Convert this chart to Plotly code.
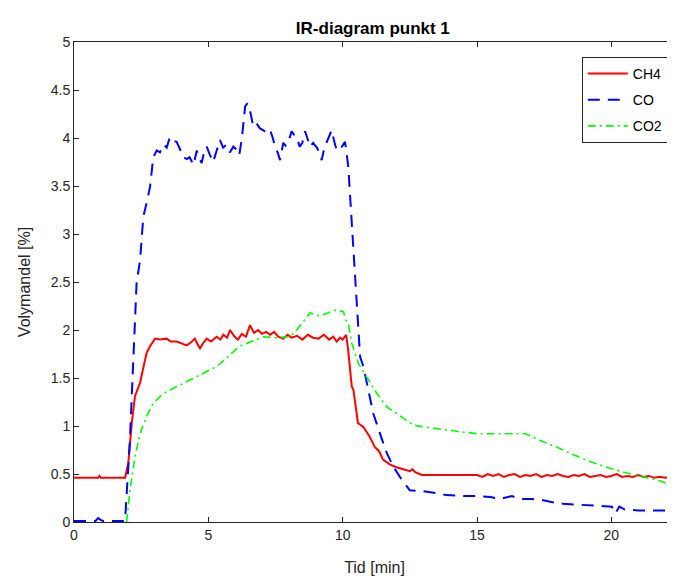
import plotly.graph_objects as go

# CH4 (red, solid)
ch4_t = [0, 0.9, 0.95, 1.0, 1.9, 2.02, 2.15, 2.27, 2.46, 2.58, 2.7, 2.83, 3.02, 3.2, 3.45,
         3.6, 3.82, 4.0, 4.19, 4.35, 4.5, 4.6, 4.69, 4.8, 4.94, 5.1, 5.31, 5.45, 5.56, 5.7,
         5.81, 5.95, 6.1, 6.25, 6.4, 6.55, 6.7, 6.85, 7.0, 7.15, 7.3, 7.45, 7.6, 7.79, 7.95,
         8.1, 8.3, 8.5, 8.7, 8.9, 9.1, 9.3, 9.5, 9.65, 9.78, 9.9, 10.0, 10.13, 10.2, 10.34,
         10.4, 10.57, 10.77, 11.0, 11.2, 11.35, 11.5, 11.75, 12.0, 12.25, 12.5, 12.6, 12.7,
         12.95, 13.5, 14.0, 14.5, 15.0, 15.2, 15.4, 15.6, 15.8, 16.0, 16.2, 16.4, 16.6, 16.8,
         17.0, 17.2, 17.4, 17.6, 17.8, 18.0, 18.2, 18.4, 18.6, 18.8, 19.0, 19.2, 19.4, 19.6,
         19.8, 20.0, 20.2, 20.4, 20.6, 20.8, 21.0, 21.2, 21.4, 21.6, 21.8, 22.0, 22.2, 22.37]
ch4_v = [0.46, 0.46, 0.48, 0.46, 0.46, 0.61, 1.03, 1.31, 1.45, 1.62, 1.76, 1.83, 1.91, 1.9, 1.91,
         1.88, 1.88, 1.86, 1.84, 1.87, 1.91, 1.85, 1.81, 1.86, 1.91, 1.88, 1.93, 1.9, 1.95, 1.92,
         2.0, 1.94, 1.9, 1.96, 1.93, 2.05, 1.97, 2.0, 1.96, 1.98, 1.95, 1.98, 1.93, 1.91, 1.95,
         1.92, 1.94, 1.9, 1.95, 1.92, 1.91, 1.95, 1.9, 1.93, 1.88, 1.92, 1.9, 1.95, 1.8, 1.41,
         1.38, 1.03, 0.99, 0.89, 0.78, 0.74, 0.65, 0.6, 0.57, 0.55, 0.53, 0.55, 0.52,
         0.49, 0.49, 0.49, 0.49, 0.49, 0.47, 0.5, 0.48, 0.5, 0.47, 0.49, 0.5, 0.47, 0.49,
         0.48, 0.5, 0.47, 0.49, 0.48, 0.5, 0.48, 0.47, 0.49, 0.48, 0.5, 0.47, 0.48, 0.49,
         0.47, 0.48, 0.5, 0.47, 0.48, 0.47, 0.49, 0.47, 0.48, 0.46, 0.47, 0.46, 0.47, 0.46]

# CO (blue, dashed)
co_t = [0, 0.8, 0.9, 1.0, 1.1, 1.9, 2.08, 2.2, 2.33, 2.46, 2.58, 2.7, 2.83, 2.95, 3.08, 3.2,
        3.33, 3.45, 3.57, 3.7, 3.82, 3.95, 4.07, 4.2, 4.3, 4.45, 4.57, 4.65, 4.75, 4.85, 4.94,
        5.05, 5.18, 5.3, 5.43, 5.55, 5.68, 5.8, 5.93, 6.05, 6.15, 6.25, 6.37, 6.45, 6.55, 6.67,
        6.8, 6.92, 7.05, 7.18, 7.3, 7.4, 7.48, 7.58, 7.67, 7.79, 7.88, 7.97, 8.1, 8.2, 8.29,
        8.4, 8.5, 8.6, 8.7, 8.79, 8.9, 9.04, 9.13, 9.22, 9.32, 9.41, 9.5, 9.59, 9.7, 9.78,
        9.88, 9.97, 10.09, 10.15, 10.21, 10.34, 10.46, 10.58, 10.65, 10.77, 10.95, 11.14,
        11.39, 11.64, 11.88, 12.2, 12.5, 13.0, 13.5, 13.87, 14.5, 15.0, 15.5, 15.86, 16.3,
        16.6, 17.0, 17.4, 17.72, 18.2, 18.8, 19.4, 20.02, 20.15, 20.3, 20.5, 21.0, 21.5, 22.0]
co_v = [0.01, 0.01, 0.04, 0.02, 0.01, 0.01, 0.85, 1.72, 2.49, 2.73, 3.18, 3.32, 3.49, 3.8, 3.87, 3.85,
        3.93, 3.9, 4.01, 3.97, 3.96, 3.88, 3.8, 3.78, 3.8, 3.72, 3.87, 3.8, 3.74, 3.86, 3.91,
        3.83, 3.75, 3.86, 3.98, 3.9, 3.93, 3.85, 3.91, 3.88, 3.82, 4.0, 4.33, 4.36, 4.29, 4.12,
        4.15, 4.1, 4.08, 4.05, 4.08, 4.0, 3.91, 3.85, 3.77, 3.95, 3.92, 3.95, 4.07, 4.03, 4.01,
        3.91, 3.95, 4.07, 3.98, 3.91, 3.95, 3.9, 3.85, 3.77, 3.9, 3.96, 4.0, 4.08, 3.95, 3.87,
        3.9, 3.91, 3.96, 3.84, 3.7, 3.11, 2.59, 2.07, 1.72, 1.62, 1.38, 1.13,
        0.92, 0.72, 0.58, 0.44, 0.33, 0.32, 0.3, 0.28, 0.27, 0.27, 0.26, 0.24, 0.27,
        0.24, 0.24, 0.23, 0.21, 0.19, 0.18, 0.17, 0.16, 0.09, 0.16, 0.13, 0.12, 0.12, 0.12]

# CO2 (green, dash-dot)
co2_t = [1.96, 2.08, 2.27, 2.46, 2.7, 2.95, 3.33, 3.82, 4.32, 4.81, 5.31, 5.81, 5.99, 6.18, 6.6,
         7.05, 7.5, 8.04, 8.29, 8.48, 8.79, 9.05, 9.28, 9.55, 9.78, 10.03, 10.12, 10.21, 10.34,
         10.59, 10.9, 11.27, 11.64, 12.14, 12.63, 13.25, 13.87, 14.3, 15.0, 16.0, 16.8, 17.35,
         17.97, 18.59, 19.2, 19.83, 20.57, 21.32, 21.8, 22.19, 22.37]
co2_v = [0.0, 0.33, 0.68, 0.92, 1.1, 1.24, 1.34, 1.41, 1.48, 1.55, 1.62, 1.74, 1.79, 1.83, 1.88,
         1.93, 1.92, 1.93, 2.0, 2.07, 2.18, 2.15, 2.16, 2.19, 2.21, 2.19, 2.1, 2.07, 1.86,
         1.65, 1.51, 1.34, 1.2, 1.1, 1.01, 0.98, 0.96, 0.94, 0.92, 0.92, 0.92, 0.85,
         0.78, 0.7, 0.63, 0.57, 0.51, 0.46, 0.43, 0.39, 0.37]

assert len(ch4_t) == len(ch4_v), (len(ch4_t), len(ch4_v))
assert len(co_t) == len(co_v), (len(co_t), len(co_v))
assert len(co2_t) == len(co2_v), (len(co2_t), len(co2_v))

axcol = "#262626"
font = "Liberation Sans, Arial, sans-serif"

fig = go.Figure()
fig.add_trace(go.Scatter(x=ch4_t, y=ch4_v, mode="lines", name="CH4", legendgroup="a",
                         line=dict(color="#ff0000", width=2)))
fig.add_trace(go.Scatter(x=co_t, y=co_v, mode="lines", name="CO", legendgroup="b",
                         line=dict(color="#0000ff", width=2, dash="12px,8px")))
fig.add_trace(go.Scatter(x=co2_t, y=co2_v, mode="lines", name="CO2", legendgroup="c",
                         line=dict(color="#00ff00", width=1.6, dash="8px,4px,2px,4px")))

# the page adds an 8px body margin, so the figure is a bit smaller and shifted
fig.update_layout(
    width=667, height=573,
    margin=dict(l=66, r=0, t=34, b=59),
    paper_bgcolor="white", plot_bgcolor="white",
    font=dict(family=font, size=14, color=axcol),
    title=dict(text="<b>IR-diagram punkt 1</b>", x=0.547, xanchor="center", y=0.976,
               font=dict(size=17, color="black")),
    xaxis=dict(range=[0, 22.37], tickvals=[0, 5, 10, 15, 20], showgrid=False, zeroline=False,
               showline=True, linecolor=axcol, linewidth=1, mirror="ticks",
               ticks="inside", ticklen=5, tickcolor=axcol,
               title=dict(text="Tid [min]", font=dict(size=16), standoff=20)),
    yaxis=dict(range=[0, 5], dtick=0.5, showgrid=False, zeroline=False,
               showline=True, linecolor=axcol, linewidth=1,
               ticks="inside", ticklen=5, tickcolor=axcol,
               title=dict(text="Volymandel [%]", font=dict(size=16), standoff=16)),
    legend=dict(x=0.988, y=0.969, xanchor="right", yanchor="top",
                bgcolor="white", bordercolor=axcol, borderwidth=1,
                itemwidth=40, tracegroupgap=5, font=dict(size=14, color="black")),
)

fig.write_html("out.html")
